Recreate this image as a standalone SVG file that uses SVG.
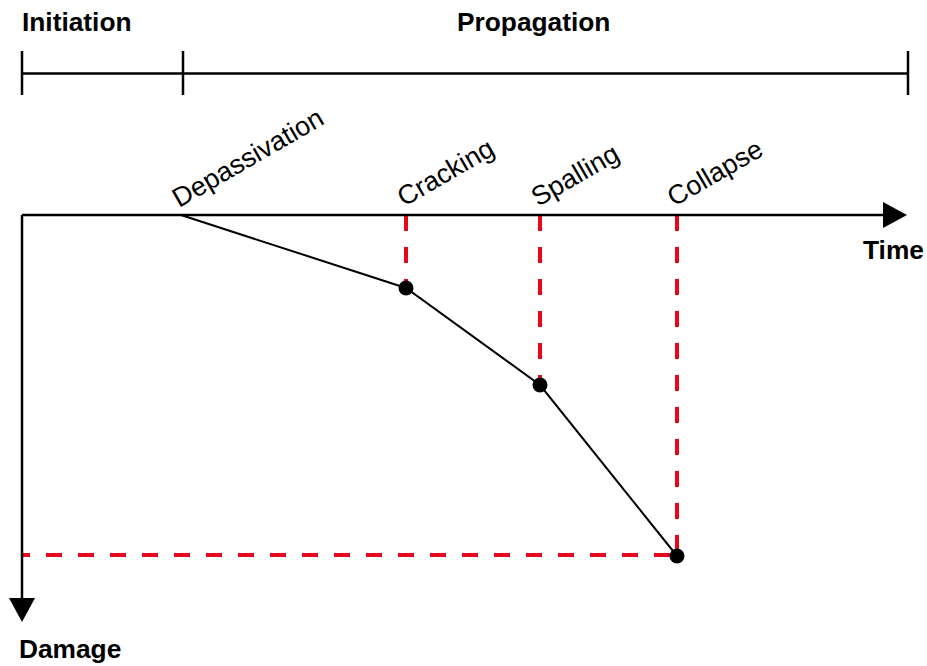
<svg xmlns="http://www.w3.org/2000/svg" width="927" height="666" viewBox="0 0 927 666">
<style>
.bold{font-family:"Liberation Sans",Arial,sans-serif;font-weight:bold;font-size:26.3px;fill:#000}
.lbl{font-family:"Liberation Sans",Arial,sans-serif;font-size:27px;fill:#000}
.axis{stroke:#000;stroke-width:2.5;fill:none}
.dash{stroke:#e6081a;stroke-width:4;fill:none;stroke-dasharray:16 16}
.curve{stroke:#000;stroke-width:2;fill:none}
</style>
<defs>
<marker id="arrow" markerWidth="24" markerHeight="26" refX="2" refY="13" orient="auto" markerUnits="userSpaceOnUse">
<path d="M0,0 L24,13 L0,26 Z" fill="#000"/>
</marker>
</defs>
<g id="phases">
<text class="bold" x="22" y="31">Initiation</text>
<text class="bold" x="457" y="31">Propagation</text>
<path class="axis" d="M22,73.5 H908 M22,51 V95 M183,51 V95 M908,51 V95"/>
</g>
<g id="connectors">
<path class="dash" d="M406,215 V288"/>
<path class="dash" d="M540,215 V385"/>
<path class="dash" d="M677,215 V556"/>
<path class="dash" d="M22,555 H677" style="stroke-dashoffset:8"/>
<path class="curve" d="M181,215 L406,288 L540,385 L677,556"/>
<path class="axis" d="M22,215 H885" marker-end="url(#arrow)"/>
<path class="axis" d="M22,215 V600" marker-end="url(#arrow)"/>
</g>
<g id="axis-labels">
<text class="bold" x="863" y="259">Time</text>
<text class="bold" x="19" y="658">Damage</text>
</g>
<g id="depassivation"><text class="lbl" transform="translate(179,208) rotate(-30)">Depassivation</text></g>
<g id="cracking"><circle cx="406" cy="288" r="7.5"/><text class="lbl" transform="translate(404,207) rotate(-30)">Cracking</text></g>
<g id="spalling"><circle cx="540" cy="385" r="7.5"/><text class="lbl" transform="translate(538,207) rotate(-30)">Spalling</text></g>
<g id="collapse"><circle cx="677" cy="556" r="7.5"/><text class="lbl" transform="translate(674,207) rotate(-30)">Collapse</text></g>
</svg>
